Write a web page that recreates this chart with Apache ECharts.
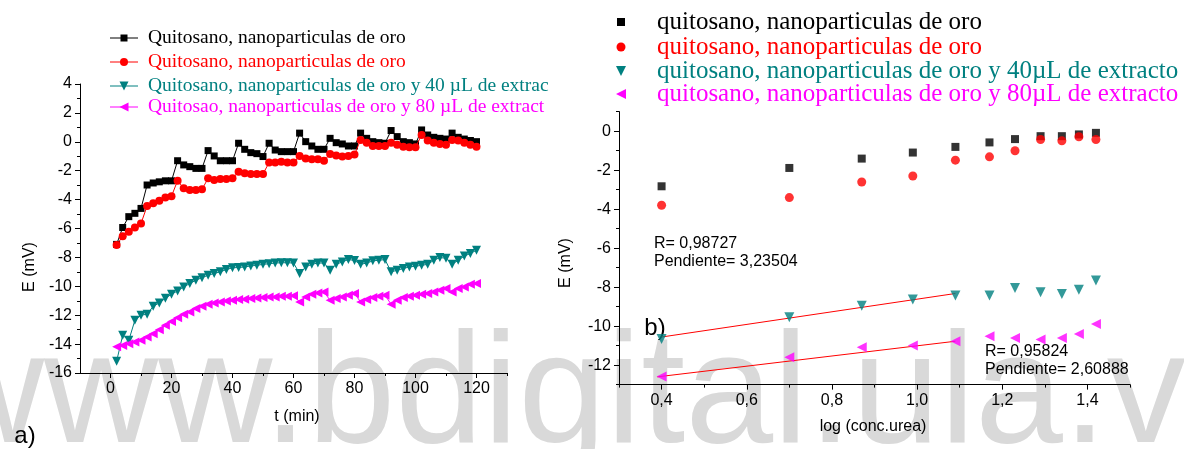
<!DOCTYPE html>
<html>
<head>
<meta charset="utf-8">
<script src="https://cdn.jsdelivr.net/npm/echarts@6/dist/echarts.min.js"></script>
<style>
  html, body { margin: 0; padding: 0; background: #fff; }
  #chart { width: 1184px; height: 449px; }
</style>
</head>
<body>
<div id="chart"></div>
<script>
// ---- Panel a): potential vs time (min) ----
const timeMin = [2,4,6,8,10,12,14,16,18,20,22,24,26,28,30,32,34,36,38,40,
  42,44,46,48,50,52,54,56,58,60,62,64,66,68,70,72,74,76,78,80,
  82,84,86,88,90,92,94,96,98,100,102,104,106,108,110,112,114,116,118,120];

const eQuitosanoA = [-7.10,-5.93,-5.18,-4.95,-4.61, -2.99,-2.85,-2.77,-2.70,-2.70,
  -1.31,-1.60,-1.72,-1.84,-1.84, -0.61,-0.98,-1.31,-1.31,-1.31,
  -0.10,-0.52,-0.75,-0.82,-1.02, -0.10,-0.57,-0.68,-0.68,-0.68,
  0.60,0.01,-0.29,-0.52,-0.52, 0.24,-0.06,-0.15,-0.29,-0.29,
  0.60,0.24,0.01,-0.06,-0.10, 0.78,0.36,0.01,-0.06,-0.15,
  0.82,0.47,0.31,0.24,0.19, 0.60,0.31,0.19,0.09,0.01];

const eQuitosanoB = [-7.15,-6.53,-6.23,-5.93,-5.65, -4.45,-4.26,-4.08,-3.85,-3.76,
  -2.69,-3.22,-3.34,-3.34,-3.29, -2.53,-2.64,-2.58,-2.58,-2.53,
  -2.07,-2.18,-2.22,-2.22,-2.22, -1.44,-1.44,-1.38,-1.44,-1.44,
  -0.98,-1.15,-1.21,-1.21,-1.31, -0.84,-0.94,-1.02,-0.98,-0.88,
  0.13,-0.06,-0.29,-0.29,-0.29, -0.06,-0.21,-0.34,-0.38,-0.38,
  0.47,0.09,-0.06,-0.15,-0.21, 0.13,0.09,-0.06,-0.21,-0.34];

const eExtracto40 = [-15.19,-13.39,-13.74,-12.35,-12.00, -11.93,-11.38,-11.15,-10.83,-10.55,
  -10.32,-10.04,-9.81,-9.58,-9.40, -9.24,-9.11,-9.00,-8.84,-8.72,
  -8.70,-8.66,-8.59,-8.55,-8.48, -8.44,-8.39,-8.37,-8.37,-8.39,
  -9.11,-8.66,-8.48,-8.39,-8.39, -8.89,-8.48,-8.31,-8.15,-8.21,
  -8.48,-8.39,-8.24,-8.20,-8.15, -9.00,-8.89,-8.77,-8.66,-8.61,
  -8.55,-8.48,-8.20,-8.01,-8.06, -8.48,-8.20,-7.91,-7.73,-7.50];

const eExtracto80 = [-14.19,-14.09,-13.98,-13.86,-13.74, -13.51,-13.28,-13.00,-12.70,-12.43,
  -12.17,-11.94,-11.78,-11.54,-11.38, -11.24,-11.15,-11.08,-11.01,-10.97,
  -10.92,-10.90,-10.85,-10.81,-10.78, -10.74,-10.74,-10.69,-10.69,-10.66,
  -11.08,-10.74,-10.55,-10.46,-10.39, -10.97,-10.85,-10.74,-10.62,-10.50,
  -11.08,-10.92,-10.78,-10.69,-10.62, -11.24,-10.97,-10.78,-10.69,-10.62,
  -10.55,-10.50,-10.39,-10.28,-10.16, -10.39,-10.16,-10.05,-9.85,-9.81];

const ticksA_x = [0,20,40,60,80,100,120];
const minorA_x = [10,30,50,70,90,110,130];
const ticksA_y = [-16,-14,-12,-10,-8,-6,-4,-2,0,2,4];
const minorA_y = [-15,-13,-11,-9,-7,-5,-3,-1,1,3];

const namesA = [
  'Quitosano, nanoparticulas de oro',
  'Quitosano, nanoparticulas de oro',
  'Quitosano, nanoparticulas de oro y 40 \u00b5L de extrac',
  'Quitosao, nanoparticulas de oro y 80 \u00b5L de extract'
];

// ---- Panel b): potential vs log(concentration) ----
const logConc = [0.40,0.70,0.87,0.99,1.09,1.17,1.23,1.29,1.34,1.38,1.42];
const eLogA = [-2.83,-1.89,-1.41,-1.10,-0.81,-0.58,-0.41,-0.26,-0.26,-0.17,-0.09];
const eLogB = [-3.80,-3.41,-2.61,-2.30,-1.49,-1.32,-1.01,-0.43,-0.50,-0.29,-0.43];
const eLog40 = [-10.66,-9.55,-8.95,-8.64,-8.43,-8.43,-8.04,-8.26,-8.35,-8.14,-7.66];
const eLog80 = [-12.58,-11.60,-11.09,-11.00,-10.78,-10.52,-10.61,-10.69,-10.61,-10.40,-9.89];

// linear fits: slope as stated, intercept, fitted range
const fit40 = { slope: 3.23504, intercept: -11.854, from: 0.40, to: 1.09, r: '0,98727', label: '3,23504' };
const fit80 = { slope: 2.60888, intercept: -13.62, from: 0.39, to: 1.09, r: '0,95824', label: '2,60888' };

const ticksB_x = [0.4,0.6,0.8,1.0,1.2,1.4];
const minorB_x = [0.3,0.5,0.7,0.9,1.1,1.3,1.5];
const ticksB_y = [-12,-10,-8,-6,-4,-2,0];
const minorB_y = [-13,-11,-9,-7,-5,-3,-1,1];

const namesB = [
  'quitosano, nanoparticulas de oro',
  'quitosano, nanoparticulas de oro',
  'quitosano, nanoparticulas de oro y 40\u00b5L de extracto',
  'quitosano, nanoparticulas de oro y 80\u00b5L de extracto'
];

const colors = ['#000000', '#ff0000', '#008080', '#ff00ff'];
const SANS = '"Liberation Sans", Arial, sans-serif';
const SERIF = '"Liberation Serif", "Times New Roman", serif';

function zip(xs, ys) { return xs.map((x, i) => [x, ys[i]]); }

function mainAxis(gridIndex, pos, min, max, ticks, fmt) {
  return {
    type: 'value', gridIndex, position: pos, min, max,
    axisLine: { show: true, onZero: false, lineStyle: { color: '#000', width: 1 } },
    axisTick: { show: true, customValues: ticks, length: 5, lineStyle: { color: '#000', width: 1 } },
    axisLabel: { show: true, customValues: ticks, formatter: fmt, color: '#000',
      fontFamily: SANS, fontSize: 16, margin: 8 },
    splitLine: { show: false }
  };
}
function minorAxis(gridIndex, pos, min, max, ticks) {
  return {
    type: 'value', gridIndex, position: pos, min, max,
    axisLine: { show: false, onZero: false },
    axisTick: { show: true, customValues: ticks, length: 3, lineStyle: { color: '#000', width: 1 } },
    axisLabel: { show: false },
    splitLine: { show: false }
  };
}

const markerA = [
  { symbol: 'rect', size: 7, rotate: 0 },
  { symbol: 'circle', size: 8, rotate: 0 },
  { symbol: 'triangle', size: 9, rotate: 180 },
  { symbol: 'triangle', size: 9, rotate: 90 }
];
const markerB = [
  { symbol: 'rect', size: 8, rotate: 0 },
  { symbol: 'circle', size: 9, rotate: 0 },
  { symbol: 'triangle', size: 10, rotate: 180 },
  { symbol: 'triangle', size: 10, rotate: 90 }
];

const seriesA = [eQuitosanoA, eQuitosanoB, eExtracto40, eExtracto80].map((ys, i) => ({
  type: 'line', name: namesA[i], xAxisIndex: 0, yAxisIndex: 0,
  data: zip(timeMin, ys), showAllSymbol: true,
  symbol: markerA[i].symbol, symbolSize: markerA[i].size, symbolRotate: markerA[i].rotate,
  itemStyle: { color: colors[i] }, lineStyle: { color: colors[i], width: 1 },
  z: 3 + i
}));

const seriesFit = [fit40, fit80].map(f => ({
  type: 'line', xAxisIndex: 2, yAxisIndex: 2, symbol: 'none',
  data: [[f.from, f.intercept + f.slope * f.from], [f.to, f.intercept + f.slope * f.to]],
  lineStyle: { color: '#ff0000', width: 1 }, z: 2
}));

const seriesB = [eLogA, eLogB, eLog40, eLog80].map((ys, i) => ({
  type: 'scatter', name: namesB[i], xAxisIndex: 2, yAxisIndex: 2,
  data: zip(logConc, ys),
  symbol: markerB[i].symbol, symbolSize: markerB[i].size, symbolRotate: markerB[i].rotate,
  itemStyle: { color: colors[i] }, z: 4 + i
}));

// legend swatches drawn as graphic shapes
function markerShape(kind, cx, cy, s, color) {
  if (kind === 0) return { type: 'rect', shape: { x: cx - s / 2, y: cy - s / 2, width: s, height: s }, style: { fill: color } };
  if (kind === 1) return { type: 'circle', shape: { cx, cy, r: s / 2 }, style: { fill: color } };
  if (kind === 2) return { type: 'polygon', shape: { points: [[cx - s / 2, cy - s / 2], [cx + s / 2, cy - s / 2], [cx, cy + s / 2]] }, style: { fill: color } };
  return { type: 'polygon', shape: { points: [[cx - s / 2, cy], [cx + s / 2, cy - s / 2], [cx + s / 2, cy + s / 2]] }, style: { fill: color } };
}

const graphics = [];
// watermark behind everything
graphics.push({ type: 'text', x: -70, y: 398, z: -10, silent: true,
  style: { text: 'www.bdigital.ula.ve', fill: '#d9d9d9', font: '158px ' + SANS, align: 'left', verticalAlign: 'middle' } });

const legendRowsA = [38, 62, 86, 107];
namesA.forEach((n, i) => {
  const y = legendRowsA[i];
  graphics.push({ type: 'line', shape: { x1: 110, y1: y, x2: 138, y2: y }, style: { stroke: colors[i], lineWidth: 1 } });
  graphics.push(markerShape(i, 124, y, markerA[i].size, colors[i]));
  graphics.push({ type: 'text', x: 148, y, style: { text: n, fill: colors[i], font: '19.5px ' + SERIF, align: 'left', verticalAlign: 'middle' } });
});

const legendRowsB = [22, 47, 71, 94];
namesB.forEach((n, i) => {
  const y = legendRowsB[i];
  graphics.push(markerShape(i, 621, y, markerB[i].size, colors[i]));
  graphics.push({ type: 'text', x: 657, y, style: { text: n, fill: colors[i], font: '25px ' + SERIF, align: 'left', verticalAlign: 'middle' } });
});

function label(text, x, y, size, opts) {
  return Object.assign({ type: 'text', x, y,
    style: { text, fill: '#000', font: size + 'px ' + SANS, align: 'center', verticalAlign: 'middle' } }, opts || {});
}
graphics.push(label('E (mV)', 30, 267, 16, { rotation: Math.PI / 2 }));
graphics.push(label('t (min)', 297, 417, 16));
graphics.push(label('a)', 25, 436, 24));
graphics.push(label('E (mV)', 566, 263, 16, { rotation: Math.PI / 2 }));
graphics.push(label('log (conc.urea)', 873, 427, 16));
graphics.push(label('b)', 655, 328, 24));
graphics.push({ type: 'text', x: 654, y: 244, style: { text: 'R= ' + fit40.r, fill: '#000', font: '16px ' + SANS, verticalAlign: 'middle' } });
graphics.push({ type: 'text', x: 654, y: 262, style: { text: 'Pendiente= ' + fit40.label, fill: '#000', font: '16px ' + SANS, verticalAlign: 'middle' } });
graphics.push({ type: 'text', x: 985, y: 352, style: { text: 'R= ' + fit80.r, fill: '#000', font: '16px ' + SANS, verticalAlign: 'middle' } });
graphics.push({ type: 'text', x: 985, y: 370, style: { text: 'Pendiente= ' + fit80.label, fill: '#000', font: '16px ' + SANS, verticalAlign: 'middle' } });

const chart = echarts.init(document.getElementById('chart'), null, { renderer: 'canvas' });
chart.setOption({
  animation: false,
  backgroundColor: 'transparent',
  grid: [
    { left: 80, top: 84, width: 427, height: 289 },
    { left: 619, top: 111.6, width: 511, height: 273 }
  ],
  xAxis: [
    mainAxis(0, 'bottom', -10, 130, ticksA_x, v => String(v)),
    minorAxis(0, 'bottom', -10, 130, minorA_x),
    mainAxis(1, 'bottom', 0.3, 1.5, ticksB_x, v => v.toFixed(1).replace('.', ',')),
    minorAxis(1, 'bottom', 0.3, 1.5, minorB_x)
  ],
  yAxis: [
    mainAxis(0, 'left', -16, 4, ticksA_y, v => String(v)),
    minorAxis(0, 'left', -16, 4, minorA_y),
    mainAxis(1, 'left', -13, 1, ticksB_y, v => String(v)),
    minorAxis(1, 'left', -13, 1, minorB_y)
  ],
  series: [...seriesA, ...seriesFit, ...seriesB],
  graphic: graphics
});
</script>
</body>
</html>
